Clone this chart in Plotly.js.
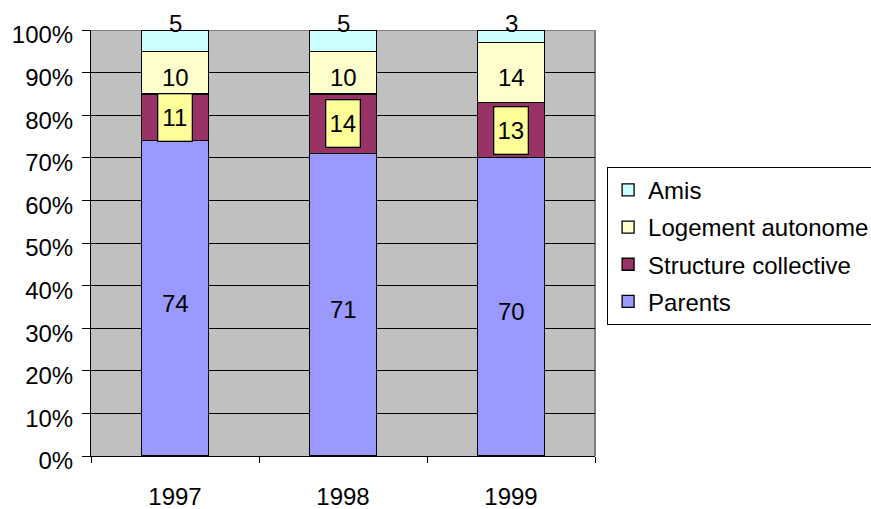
<!DOCTYPE html>
<html>
<head>
<meta charset="utf-8">
<script src="https://cdn.plot.ly/plotly-3.0.1.min.js"></script>
<style>
  html, body { margin: 0; padding: 0; background: #ffffff; }
  #chart { width: 871px; height: 509px; }
</style>
</head>
<body>
<div id="chart"></div>
<script>
// Répartition des jeunes selon le mode d'hébergement (en %)
const years = ['1997', '1998', '1999'];
const parents = [74, 71, 70];
const structureCollective = [11, 14, 13];
const logementAutonome = [10, 10, 14];
const amis = [5, 5, 3];

const seriesNames = ['Parents', 'Structure collective', 'Logement autonome', 'Amis'];
const seriesValues = [parents, structureCollective, logementAutonome, amis];
const seriesColors = ['#9999FF', '#993366', '#FFFFCC', '#CCFFFF'];

const FONT = 'Liberation Sans, Arial, sans-serif';
const FS = 24;

const traces = seriesNames.map((name, k) => ({
  type: 'bar',
  name: name,
  x: years,
  y: seriesValues[k],
  legendgroup: name,
  legendrank: seriesNames.length - k,
  marker: { color: seriesColors[k], line: { color: '#000000', width: 1.3 } },
  hoverinfo: 'x+y+name'
}));

// Value labels: centred in each segment, the top series sits above its bar,
// and "Structure collective" labels get a framed yellow box.
const annotations = [];
years.forEach((yr, i) => {
  let base = 0;
  seriesValues.forEach((vals, k) => {
    const v = vals[i];
    const mid = base + v / 2;
    const top = base + v;
    const common = {
      x: i, xref: 'x', yref: 'y', text: String(v), showarrow: false,
      font: { family: FONT, size: FS, color: '#000000' }
    };
    if (k === seriesValues.length - 1) {
      annotations.push(Object.assign({}, common, {
        y: top, yanchor: 'bottom', yshift: -9
      }));
    } else if (k === 1) {
      annotations.push(Object.assign({}, common, {
        y: mid, yanchor: 'middle', width: 33, height: 46,
        bgcolor: '#FFFF99', bordercolor: '#000000', borderwidth: 1.3, borderpad: 0,
        valign: 'middle'
      }));
    } else {
      annotations.push(Object.assign({}, common, {
        y: mid, yanchor: 'middle', yshift: -5
      }));
    }
    base = top;
  });
});

const layout = {
  width: 871,
  height: 509,
  margin: { l: 91, r: 276, t: 30, b: 53, autoexpand: false },
  paper_bgcolor: '#ffffff',
  plot_bgcolor: '#C0C0C0',
  barmode: 'stack',
  bargap: 0.6,
  font: { family: FONT, size: FS, color: '#000000' },
  showlegend: true,
  legend: {
    x: 1.024, xanchor: 'left', xref: 'paper',
    y: 0.679, yanchor: 'top', yref: 'paper',
    traceorder: 'grouped',
    tracegroupgap: 3,
    bgcolor: '#ffffff',
    bordercolor: '#000000',
    borderwidth: 1,
    font: { family: FONT, size: FS, color: '#000000' }
  },
  xaxis: {
    type: 'category',
    range: [-0.5, 2.5],
    tickson: 'boundaries',
    ticks: 'outside',
    ticklen: 6,
    tickwidth: 1,
    tickcolor: '#000000',
    showline: true,
    linecolor: '#000000',
    linewidth: 1,
    showgrid: false,
    zeroline: false,
    ticklabelstandoff: 19,
    tickfont: { family: FONT, size: FS, color: '#000000' },
    fixedrange: true
  },
  yaxis: {
    range: [0, 100],
    dtick: 10,
    tick0: 0,
    ticksuffix: '%',
    ticks: 'outside',
    ticklen: 8,
    tickwidth: 1,
    tickcolor: '#000000',
    showline: true,
    linecolor: '#000000',
    linewidth: 1,
    showgrid: true,
    gridcolor: '#000000',
    gridwidth: 1,
    zeroline: false,
    ticklabelshift: 5,
    ticklabelstandoff: 4,
    tickfont: { family: FONT, size: FS, color: '#000000' },
    fixedrange: true
  },
  shapes: [
    { type: 'line', layer: 'below', xref: 'paper', yref: 'y', x0: 0, x1: 1, y0: 100, y1: 100,
      line: { color: '#808080', width: 2 } },
    { type: 'line', layer: 'below', xref: 'paper', yref: 'y', x0: 1, x1: 1, y0: 0, y1: 100,
      line: { color: '#808080', width: 2 } }
  ],
  annotations: annotations
};

Plotly.newPlot('chart', traces, layout, { displayModeBar: false, staticPlot: true });
</script>
</body>
</html>
